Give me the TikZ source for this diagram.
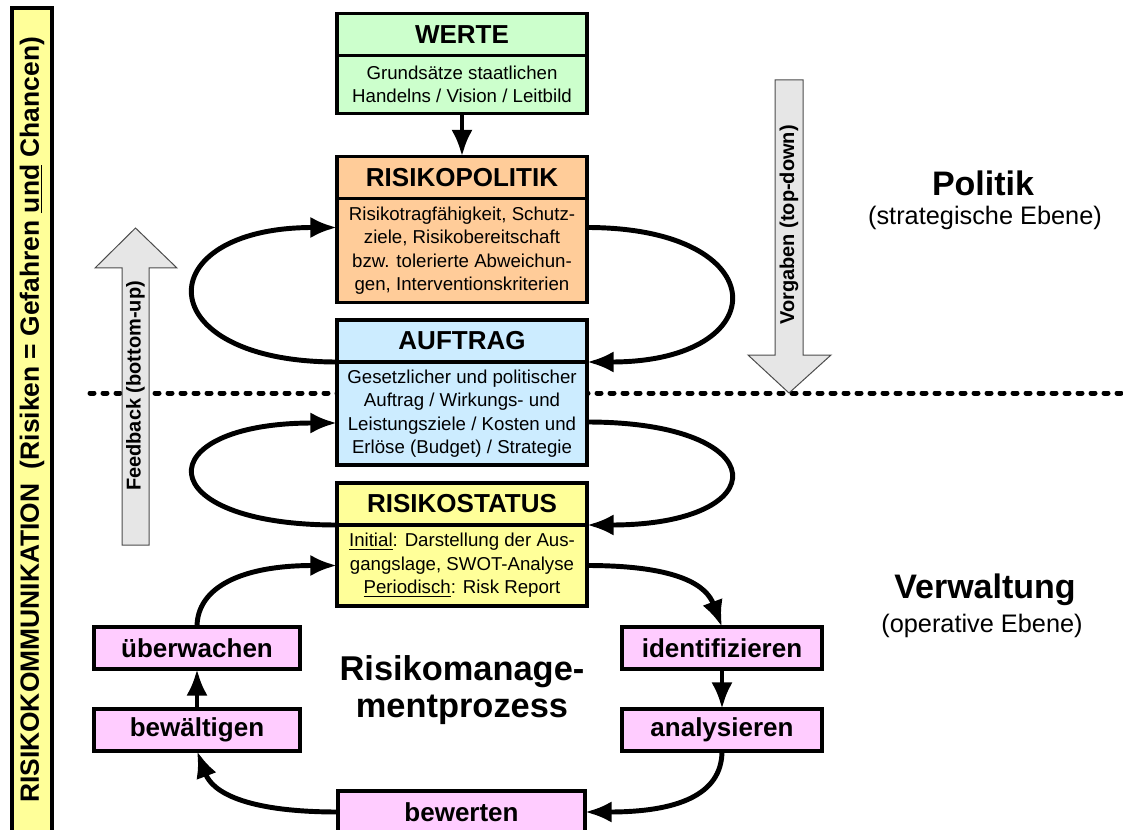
\documentclass[tikz,border=0pt]{standalone}
\usepackage{fontspec}
\setmainfont{Liberation Sans}
\usetikzlibrary{arrows.meta,positioning}
\definecolor{wertegreen}{HTML}{CCFFCC}
\definecolor{politorange}{HTML}{FFCC99}
\definecolor{auftragblue}{HTML}{CCECFF}
\definecolor{statusyellow}{HTML}{FFFF99}
\definecolor{taskpink}{HTML}{FFCCFF}
\definecolor{arrowgray}{HTML}{E6E6E6}

\begin{document}
\begin{tikzpicture}[x=0.75pt,y=-0.75pt]
	\tikzset{head/.style = {draw, line width=2.6pt, outer sep=0pt, inner sep=0pt,
			minimum width=187.5pt, minimum height=31.5pt,
			font=\bfseries\fontsize{19.5}{22}\selectfont}}
	\tikzset{body/.style = {draw, line width=2.6pt, outer sep=0pt, inner sep=0pt,
			minimum width=187.5pt, align=center,
			font=\fontsize{14}{17.6}\selectfont}}
	\tikzset{task/.style = {draw, line width=2.6pt, fill=taskpink, outer sep=0pt,
			inner sep=0pt, minimum height=31.5pt,
			font=\bfseries\fontsize{19.5}{22}\selectfont}}
	\tikzset{edge/.style = {line width=3.7pt, -{Latex[length=20pt,width=16pt]}}}
	\tikzset{bigarrow/.style = {draw=black!70, line width=0.75pt, fill=arrowgray}}
	\tikzset{flowtext/.style = {rotate=90, font=\bfseries\fontsize{15}{18}\selectfont}}
	\tikzset{levelhead/.style = {font=\bfseries\fontsize{25.5}{30}\selectfont}}
	\tikzset{levelsub/.style = {font=\fontsize{19}{22}\selectfont}}
	\useasboundingbox (0,0) rectangle (1123,830);
	% level line
	\coordinate (lvlwest) at (90,393);
	\coordinate (lvleast) at (1135,393);
	\draw[line width=3.75pt, dash pattern=on 3pt off 6.75pt, line cap=round] (lvlwest) -- (lvleast);
	% communication bar
	\node[draw, line width=2.6pt, fill=statusyellow, rotate=90, minimum width=618pt,
		minimum height=30pt, inner sep=0pt, font=\bfseries\fontsize{19.8}{24}\selectfont]
		(komm) at (32,420) {RISIKOKOMMUNIKATION\ \ (Risiken = Gefahren \underline{und} Chancen)};
	% big arrows
	\draw[bigarrow] (122,545) -- (122,268) -- (95,268) -- (135.5,228) -- (177,268)
		-- (149,268) -- (149,545) -- cycle;
	\node[flowtext] (fbtext) at (135.5,386) {Feedback (bottom-up)};
	\draw[bigarrow] (775,80) -- (803,80) -- (803,355) -- (831,355) -- (789,393)
		-- (748,355) -- (775,355) -- cycle;
	\node[flowtext] (vgtext) at (789,225) {Vorgaben (top-down)};
	% boxes
	\node[head, fill=wertegreen] (wertehead) at (462,34.5) {WERTE};
	\node[body, fill=wertegreen, minimum height=43.5pt, below=0pt of wertehead] (wertebody)
		{Grundsätze staatlichen\\Handelns / Vision / Leitbild};
	\node[head, fill=politorange] (polhead) at (462,177.5) {RISIKOPOLITIK};
	\node[body, fill=politorange, minimum height=78pt, below=0pt of polhead] (polbody)
		{Risikotragfähigkeit, Schutz-\\ziele, Risikobereitschaft\\bzw. tolerierte Abweichun-\\gen, Interventionskriterien};
	\node[head, fill=auftragblue] (aufhead) at (462,341) {AUFTRAG};
	\node[body, fill=auftragblue, minimum height=77.25pt, below=0pt of aufhead] (aufbody)
		{Gesetzlicher und politischer\\Auftrag / Wirkungs- und\\Leistungsziele / Kosten und\\Erlöse (Budget) / Strategie};
	\node[head, fill=statusyellow] (stathead) at (462,504) {RISIKOSTATUS};
	\node[body, fill=statusyellow, minimum height=60.75pt, below=0pt of stathead] (statbody)
		{\underline{Initial}: Darstellung der Aus-\\gangslage, SWOT-Analyse\\\underline{Periodisch}: Risk Report};
	% process steps
	\node[task, minimum width=154.5pt] (ueberw) at (197,648) {überwachen};
	\node[task, minimum width=154.5pt] (bewaelt) at (197,730) {bewältigen};
	\node[task, minimum width=150pt] (ident) at (722,648) {identifizieren};
	\node[task, minimum width=150pt] (analys) at (722,730) {analysieren};
	\node[task, minimum width=185.25pt] (bewert) at (461.5,812) {bewerten};
	% labels
	\node[levelhead] (politik) at (983,183) {Politik};
	\node[levelsub] (polsub) at (985,218) {(strategische Ebene)};
	\node[levelhead] (verw) at (985,590) {Verwaltung};
	\node[levelsub] (verwsub) at (982,626) {(operative Ebene)};
	\node[align=center, font=\bfseries\fontsize{25.8}{28}\selectfont] (rmp) at (462,690)
		{Risikomanage-\\mentprozess};
	% edges
	\draw[edge] (wertebody) -- (polhead);
	\draw[edge] (aufhead.south west) .. controls +(-190,0) and +(-190,0) .. ([yshift=-21.75pt]polbody.north west);
	\draw[edge] ([yshift=-21.75pt]polbody.north east) .. controls +(190,0) and +(190,0) .. (aufhead.south east);
	\draw[edge] (stathead.south west) .. controls +(-190,0) and +(-190,0) .. ([yshift=-45.75pt]aufbody.north west);
	\draw[edge] ([yshift=-45pt]aufbody.north east) .. controls +(190,0) and +(190,0) .. (stathead.south east);
	\draw[edge] (ueberw.north) .. controls +(0,-40) and +(-95,0) .. (statbody.west);
	\draw[edge] (statbody.east) .. controls +(95,0) and +(-15,-40) .. (ident.north);
	\draw[edge] (ident) -- (analys);
	\draw[edge] (analys.south) .. controls +(0,45) and +(90,0) .. (bewert.east);
	\draw[edge] (bewert.west) .. controls +(-95,0) and +(15,40) .. (bewaelt.south);
	\draw[edge] (bewaelt) -- (ueberw);
\end{tikzpicture}
\end{document}
